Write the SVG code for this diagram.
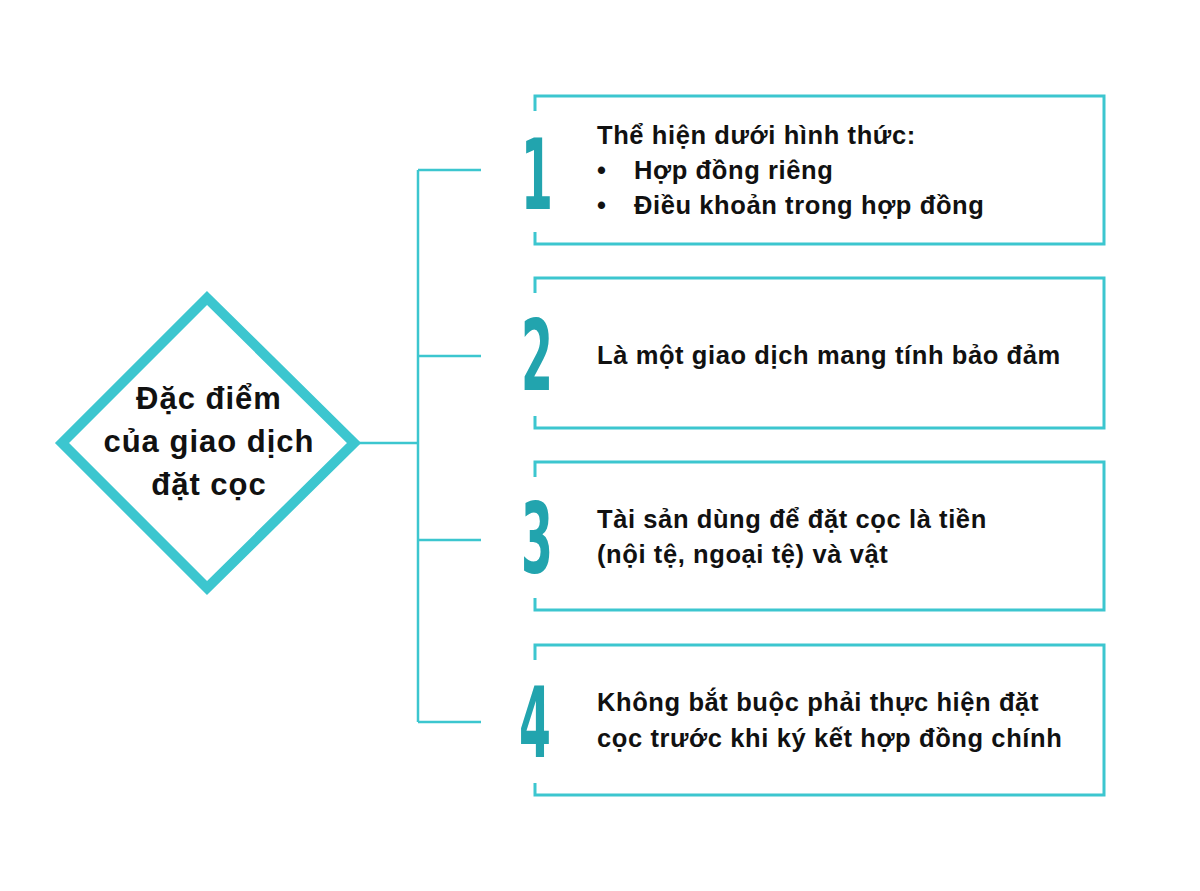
<svg xmlns="http://www.w3.org/2000/svg" width="1200" height="891" viewBox="0 0 1200 891">
<style>
.b{fill:none;stroke:#3cc6cf;stroke-width:3}
.c{fill:none;stroke:#3cc6cf;stroke-width:2.5}
.t{font-family:"Liberation Sans",Arial,sans-serif;font-weight:bold;font-size:25.5px;letter-spacing:0.6px;fill:#111}
.d{font-family:"Liberation Sans",Arial,sans-serif;font-weight:bold;font-size:31px;letter-spacing:1px;fill:#111}
.n{font-family:"DejaVu Sans Condensed","DejaVu Sans",sans-serif;font-weight:bold;font-size:98px;fill:#22a4ae}
</style>
<rect width="1200" height="891" fill="#fff"/>
<g id="connectors">
<path class="c" d="M356 443H418M418 170V722M418 170H481M418 356H481M418 540H481M418 722H481"/>
</g>
<g id="center">
<polygon points="207,298 354,443 207,588 62,443" fill="#fff" stroke="#3cc6cf" stroke-width="10"/>
<text class="d" text-anchor="middle"><tspan x="209" y="409">Đặc điểm</tspan><tspan x="209" y="452">của giao dịch</tspan><tspan x="209" y="495">đặt cọc</tspan></text>
</g>
<g id="item1">
<path class="b" d="M535 111V96H1104V244H535V232"/>
<text class="n" transform="translate(521 209) scale(0.52 1)">1</text>
<text class="t" x="597" y="144">Thể hiện dưới hình thức:</text>
<text class="t" x="597" y="179">•</text><text class="t" x="634" y="179">Hợp đồng riêng</text>
<text class="t" x="597" y="214">•</text><text class="t" x="634" y="214">Điều khoản trong hợp đồng</text>
</g>
<g id="item2">
<path class="b" d="M535 293V278H1104V428H535V416"/>
<text class="n" transform="translate(521 390) scale(0.52 1)">2</text>
<text class="t" x="597" y="364">Là một giao dịch mang tính bảo đảm</text>
</g>
<g id="item3">
<path class="b" d="M535 477V462H1104V610H535V598"/>
<text class="n" transform="translate(521 573) scale(0.52 1)">3</text>
<text class="t" x="597" y="528">Tài sản dùng để đặt cọc là tiền</text>
<text class="t" x="597" y="563">(nội tệ, ngoại tệ) và vật</text>
</g>
<g id="item4">
<path class="b" d="M535 660V645H1104V795H535V783"/>
<text class="n" transform="translate(519 757) scale(0.52 1)">4</text>
<text class="t" x="597" y="711">Không bắt buộc phải thực hiện đặt</text>
<text class="t" x="597" y="747">cọc trước khi ký kết hợp đồng chính</text>
</g>
</svg>
